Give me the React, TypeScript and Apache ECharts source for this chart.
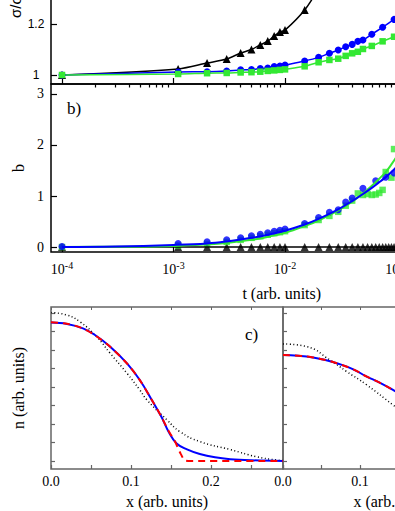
import React, { useEffect, useRef } from "react";
import * as echarts from "echarts";

// ---------- panel a) sigma/sigma0 vs t ----------
const tTopBlack = [1e-4, 1.1e-3, 2e-3, 3e-3, 4e-3, 5e-3, 6e-3, 7e-3, 8e-3, 9e-3, 1e-2, 1.5e-2, 2e-2];
const sigmaBlack = [1.0, 1.024, 1.047, 1.063, 1.086, 1.1, 1.118, 1.133, 1.153, 1.169, 1.176, 1.255, 1.34];
const tTopColor = [1e-4, 1.1e-3, 2e-3, 3e-3, 4e-3, 5e-3, 6e-3, 7e-3, 8e-3, 9e-3, 1e-2, 0.015, 0.02, 0.025, 0.03, 0.035, 0.04, 0.045, 0.05, 0.06, 0.075, 0.095];
const sigmaBlue = [1.0, 1.012, 1.013, 1.016, 1.02, 1.021, 1.025, 1.027, 1.033, 1.035, 1.039, 1.055, 1.069, 1.085, 1.098, 1.111, 1.12, 1.132, 1.137, 1.16, 1.187, 1.218];
const sigmaGreen = [1.0, 1.004, 1.007, 1.008, 1.01, 1.011, 1.013, 1.016, 1.018, 1.02, 1.022, 1.034, 1.05, 1.059, 1.064, 1.075, 1.085, 1.091, 1.102, 1.114, 1.132, 1.15];

// ---------- panel b) b vs t ----------
const tBlackMid = [1e-4, 1.1e-3, 2e-3, 3e-3, 4e-3, 5e-3, 6e-3, 7e-3, 8e-3, 9e-3, 1e-2, 0.015, 0.02, 0.025, 0.03, 0.035, 0.04, 0.045, 0.05, 0.055, 0.06, 0.065, 0.07, 0.075, 0.08, 0.085, 0.09, 0.095, 0.1];
const bBlack = [0, 0, 0, 0, 0, 0, 0, 0, 0, 0, 0, 0, 0, 0, 0, 0, 0, 0, 0, 0, 0, 0, 0, 0, 0, 0, 0, 0, 0];
const tBlueMid = [1e-4, 1.1e-3, 2e-3, 3e-3, 4e-3, 5e-3, 6e-3, 7e-3, 8e-3, 9e-3, 1e-2, 0.015, 0.02, 0.025, 0.03, 0.035, 0.04, 0.05, 0.065, 0.08, 0.095];
const bBlue = [0.01, 0.07, 0.1, 0.14, 0.18, 0.22, 0.25, 0.28, 0.31, 0.33, 0.35, 0.46, 0.58, 0.68, 0.73, 0.88, 0.96, 1.15, 1.3, 1.37, 1.45];
const tGreenMid = [1e-4, 1.1e-3, 2e-3, 3e-3, 4e-3, 5e-3, 6e-3, 7e-3, 8e-3, 9e-3, 1e-2, 0.015, 0.02, 0.025, 0.03, 0.035, 0.04, 0.045, 0.05, 0.055, 0.06, 0.065, 0.07, 0.075, 0.08, 0.09, 0.095];
const bGreen = [0.0, 0.03, 0.06, 0.1, 0.14, 0.18, 0.21, 0.24, 0.27, 0.29, 0.31, 0.43, 0.53, 0.61, 0.69, 0.81, 0.91, 1.05, 1.02, 1.04, 1.02, 1.03, 1.06, 1.12, 1.47, 1.36, 1.92];
const tFit = [1e-4, 3e-4, 1e-3, 2e-3, 3e-3, 5e-3, 7e-3, 1e-2, 0.015, 0.02, 0.03, 0.04, 0.05, 0.06, 0.07, 0.08, 0.09, 0.1];
const bFitBlue = [0.0, 0.01, 0.04, 0.07, 0.11, 0.18, 0.24, 0.32, 0.44, 0.55, 0.74, 0.9, 1.04, 1.16, 1.27, 1.37, 1.47, 1.57];
const bFitGreen = [0.0, 0.005, 0.02, 0.05, 0.08, 0.14, 0.2, 0.28, 0.41, 0.52, 0.72, 0.89, 1.05, 1.2, 1.34, 1.47, 1.62, 1.77];
const tFitBlack = [1e-4, 0.1];
const bFitBlack = [0, 0];

// ---------- panel c) n vs x ----------
const xBlueLeft = [0, 0.02, 0.04, 0.055, 0.074, 0.095, 0.111, 0.126, 0.138, 0.147, 0.157, 0.17, 0.186, 0.205, 0.224, 0.25, 0.29];
const nBlueLeft = [7.48, 7.41, 7.17, 6.81, 6.18, 5.28, 4.38, 3.3, 2.39, 1.58, 0.95, 0.63, 0.38, 0.2, 0.1, 0.04, 0.0];
const xRedLeft = [0, 0.02, 0.04, 0.055, 0.074, 0.095, 0.111, 0.126, 0.138, 0.147, 0.155, 0.162, 0.168, 0.175, 0.29];
const nRedLeft = [7.5, 7.42, 7.16, 6.8, 6.17, 5.27, 4.37, 3.3, 2.39, 1.62, 1.05, 0.4, 0.02, 0.0, 0.0];
const xDotLeft = [0, 0.02, 0.036, 0.057, 0.074, 0.095, 0.111, 0.12, 0.145, 0.161, 0.186, 0.224, 0.257, 0.282, 0.29];
const nDotLeft = [8.02, 7.89, 7.53, 6.72, 5.82, 4.74, 3.84, 3.3, 2.22, 1.59, 1.05, 0.62, 0.23, 0.05, 0.02];
const xBlueRight = [0, 0.02, 0.039, 0.055, 0.07, 0.09, 0.109, 0.125, 0.143, 0.16];
const nBlueRight = [5.73, 5.69, 5.6, 5.46, 5.28, 4.98, 4.56, 4.25, 3.84, 3.4];
const nRedRight = [5.73, 5.69, 5.6, 5.46, 5.28, 4.98, 4.56, 4.25, 3.84, 3.4];
const xDotRight = [0, 0.031, 0.061, 0.083, 0.109, 0.143, 0.16];
const nDotRight = [6.33, 6.18, 5.46, 4.83, 4.11, 3.03, 2.5];

// tick values
const decades = [-4, -3, -2, -1, 0];
const minorMult = [2, 3, 4, 5, 6, 7, 8, 9];
const sigmaMajor = [1, 1.2, 1.4];
const sigmaMinor = [1.1, 1.3];
const bMajor = [0, 1, 2, 3];
const bMinor = [0.5, 1.5, 2.5];
const nTicks = [0, 1, 2, 3, 4, 5, 6, 7, 8];
const xLabels = [0, 0.1, 0.2];

const SERIF = '"Liberation Serif", "Times New Roman", serif';
const SANS = '"Liberation Sans", Arial, sans-serif';
const BLUE = "#0000ff";
const GREEN = "#33e833";
const RED = "#ff0000";
const GRAYAX = "#666666";

const XMIN = -4.0987;
const XMAX = 0.04;
const OY = 40; // the canvas starts 40px above the visible page

function logPairs(ts: number[], vs: number[]) {
  return ts.map((t, i) => [Math.log10(t), vs[i]]);
}
function pairs(xs: number[], vs: number[]) {
  return xs.map((x, i) => [x, vs[i]]);
}

function buildOption() {
  const minorLog: number[] = [];
  for (const d of [-4, -3, -2, -1]) for (const m of minorMult) minorLog.push(Math.log10(m) + d);

  const hide = { show: false, onZero: false };
  const noSplit = { show: false };

  const logXAxis = (grid: number, major: boolean, withLabels: boolean): any => ({
    type: "value",
    gridIndex: grid,
    min: XMIN,
    max: XMAX,
    axisLine: hide,
    splitLine: noSplit,
    axisTick: {
      inside: true,
      length: major ? 6 : 3.5,
      customValues: major ? decades : minorLog,
      lineStyle: { color: "#000", width: 1.2 },
    },
    axisLabel: withLabels
      ? {
          customValues: decades,
          margin: 8,
          formatter: (v: number) => `{b|10}{s|${Math.round(v)}}`,
          rich: {
            b: { fontFamily: SERIF, fontSize: 14, color: "#000", verticalAlign: "bottom" },
            s: { fontFamily: SERIF, fontSize: 10, color: "#000", verticalAlign: "bottom", padding: [0, 0, 6, 0] },
          },
        }
      : { show: false },
  });

  const nXAxis = (grid: number): any => ({
    type: "value",
    gridIndex: grid,
    min: 0,
    max: 0.29,
    interval: 0.05,
    axisLine: hide,
    splitLine: noSplit,
    axisTick: { inside: true, length: 4, lineStyle: { color: GRAYAX, width: 1.2 } },
    axisLabel: {
      customValues: xLabels,
      margin: 5,
      formatter: (v: number) => v.toFixed(1),
      fontFamily: SERIF,
      fontSize: 14,
      color: "#000",
    },
    name: "x (arb. units)",
    nameLocation: "middle",
    nameGap: 24,
    nameTextStyle: { fontFamily: SERIF, fontSize: 16, color: "#000" },
  });

  const nTopAxis = (grid: number): any => ({
    type: "value",
    gridIndex: grid,
    position: "top",
    min: 0,
    max: 0.29,
    interval: 0.05,
    axisLine: hide,
    splitLine: noSplit,
    axisTick: { inside: true, length: 3, lineStyle: { color: GRAYAX, width: 1 } },
    axisLabel: { show: false },
  });

  const nYAxis = (grid: number, withName: boolean): any => ({
    type: "value",
    gridIndex: grid,
    min: -0.432,
    max: 8.324,
    axisLine: hide,
    splitLine: noSplit,
    axisTick: { inside: true, length: 4, customValues: nTicks, lineStyle: { color: GRAYAX, width: 1.2 } },
    axisLabel: { show: false },
    name: withName ? "n (arb. units)" : "",
    nameLocation: "middle",
    nameGap: 25,
    nameRotate: 90,
    nameTextStyle: { fontFamily: SERIF, fontSize: 16, color: "#000" },
  });

  const xAxis = [
    logXAxis(0, true, false), // 0
    logXAxis(0, false, false), // 1
    {
      ...logXAxis(1, true, true),
      name: "t (arb. units)",
      nameLocation: "middle",
      nameGap: 33,
      nameTextStyle: { fontFamily: SERIF, fontSize: 16, color: "#000" },
    }, // 2
    logXAxis(1, false, false), // 3
    nXAxis(2), // 4
    nXAxis(3), // 5
    nTopAxis(2), // 6
    nTopAxis(3), // 7
  ];

  const yAxis = [
    {
      type: "value",
      gridIndex: 0,
      min: 0.9647,
      max: 1.4,
      axisLine: hide,
      splitLine: noSplit,
      axisTick: { inside: true, length: 6, customValues: sigmaMajor, lineStyle: { color: "#000", width: 1.2 } },
      axisLabel: {
        customValues: [1, 1.2],
        align: "center",
        margin: 15,
        fontFamily: SANS,
        fontSize: 12,
        color: "#000",
        formatter: (v: number) => String(v),
      },
    },
    {
      type: "value",
      gridIndex: 0,
      min: 0.9647,
      max: 1.4,
      axisLine: hide,
      splitLine: noSplit,
      axisTick: { inside: true, length: 3.5, customValues: sigmaMinor, lineStyle: { color: "#000", width: 1.2 } },
      axisLabel: { show: false },
    },
    {
      type: "value",
      gridIndex: 1,
      min: -0.098,
      max: 3.196,
      axisLine: hide,
      splitLine: noSplit,
      axisTick: { inside: true, length: 6, customValues: bMajor, lineStyle: { color: "#000", width: 1.2 } },
      axisLabel: {
        customValues: bMajor,
        margin: 7,
        fontFamily: SERIF,
        fontSize: 14,
        color: "#000",
        formatter: (v: number) => String(v),
      },
      name: "b",
      nameLocation: "middle",
      nameGap: 22,
      nameRotate: 90,
      nameTextStyle: { fontFamily: SERIF, fontSize: 16, color: "#000" },
    },
    {
      type: "value",
      gridIndex: 1,
      min: -0.098,
      max: 3.196,
      axisLine: hide,
      splitLine: noSplit,
      axisTick: { inside: true, length: 3.5, customValues: bMinor, lineStyle: { color: "#000", width: 1.2 } },
      axisLabel: { show: false },
    },
    nYAxis(2, true),
    nYAxis(3, false),
  ];

  const g = { show: true, borderWidth: 1.5, backgroundColor: "transparent", outerBoundsMode: "none" };
  const grid = [
    { ...g, left: 51, width: 461.5, top: -27 + OY, height: 111, borderColor: "#000" },
    { ...g, left: 51, width: 461.5, top: 84 + OY, height: 168, borderColor: "#000" },
    { ...g, left: 51, width: 232, top: 307 + OY, height: 162, borderColor: GRAYAX },
    { ...g, left: 283, width: 223, top: 307 + OY, height: 162, borderColor: GRAYAX },
  ];

  const lineSym = (name: string, data: any[], color: string, symbol: string, size: number, xi: number, yi: number): any => ({
    name,
    type: "line",
    xAxisIndex: xi,
    yAxisIndex: yi,
    data,
    smooth: 0.3,
    symbol,
    symbolSize: size,
    showSymbol: true,
    itemStyle: { color },
    lineStyle: { color, width: 1.5 },
  });
  const scatter = (name: string, data: any[], color: string, symbol: string, size: number): any => ({
    name,
    type: "scatter",
    xAxisIndex: 2,
    yAxisIndex: 2,
    data,
    symbol,
    symbolSize: size,
    itemStyle: { color },
  });
  const fit = (name: string, data: any[], color: string, width: number, xi: number, yi: number, type: any = "solid", smooth = 0.4): any => ({
    name,
    type: "line",
    xAxisIndex: xi,
    yAxisIndex: yi,
    data,
    smooth,
    showSymbol: false,
    symbol: "none",
    lineStyle: { color, width, type },
  });

  const DOT = [1, 2.5];
  const DASH = [7, 5];
  const series = [
    lineSym("black σ", logPairs(tTopBlack, sigmaBlack), "#000", "triangle", 8, 0, 0),
    lineSym("blue σ", logPairs(tTopColor, sigmaBlue), BLUE, "circle", 7, 0, 0),
    lineSym("green σ", logPairs(tTopColor, sigmaGreen), GREEN, "rect", 6.5, 0, 0),

    fit("black fit", logPairs(tFitBlack, bFitBlack), "#000", 1.5, 2, 2),
    scatter("black b", logPairs(tBlackMid, bBlack), "#000", "triangle", 8),
    scatter("green b", logPairs(tGreenMid, bGreen), GREEN, "rect", 6.5),
    scatter("blue b", logPairs(tBlueMid, bBlue), BLUE, "circle", 7),
    fit("green fit", logPairs(tFit, bFitGreen), GREEN, 2, 2, 2),
    fit("blue fit", logPairs(tFit, bFitBlue), BLUE, 2, 2, 2),

    fit("dotted left", pairs(xDotLeft, nDotLeft), "#000", 1.5, 4, 4, DOT, 0.5),
    fit("blue left", pairs(xBlueLeft, nBlueLeft), BLUE, 2, 4, 4, "solid", 0.4),
    fit("red left", pairs(xRedLeft, nRedLeft), RED, 2, 4, 4, DASH, 0.3),
    fit("dotted right", pairs(xDotRight, nDotRight), "#000", 1.5, 5, 5, DOT, 0.5),
    fit("blue right", pairs(xBlueRight, nBlueRight), BLUE, 2, 5, 5, "solid", 0.5),
    fit("red right", pairs(xBlueRight, nRedRight), RED, 2, 5, 5, DASH, 0.5),
  ];

  const graphic = [
    {
      type: "text",
      x: 15,
      y: 18 + OY,
      rotation: Math.PI / 2,
      style: {
        text: "σ/σ₀",
        font: `15px ${SANS}`,
        fill: "#000",
        textAlign: "left",
        textVerticalAlign: "middle",
        align: "left",
        verticalAlign: "middle",
      },
    },
    {
      type: "text",
      x: 67,
      y: 108 + OY,
      style: { text: "b)", font: `17px ${SERIF}`, fill: "#000", textVerticalAlign: "middle", verticalAlign: "middle" },
    },
    {
      type: "text",
      x: 245,
      y: 334 + OY,
      style: { text: "c)", font: `17px ${SERIF}`, fill: "#000", textVerticalAlign: "middle", verticalAlign: "middle" },
    },
  ];

  return {
    animation: false,
    backgroundColor: "#ffffff",
    grid,
    xAxis,
    yAxis,
    series,
    graphic,
  };
}

export default function App() {
  const ref = useRef<HTMLDivElement>(null);
  useEffect(() => {
    if (!ref.current) return;
    const chart = echarts.init(ref.current, null, { renderer: "svg" });
    chart.setOption(buildOption() as any);
    return () => chart.dispose();
  }, []);
  return (
    <div
      ref={ref}
      style={{ position: "fixed", left: 0, top: -OY, width: 530, height: 511 + OY + 10, background: "#fff" }}
    />
  );
}
